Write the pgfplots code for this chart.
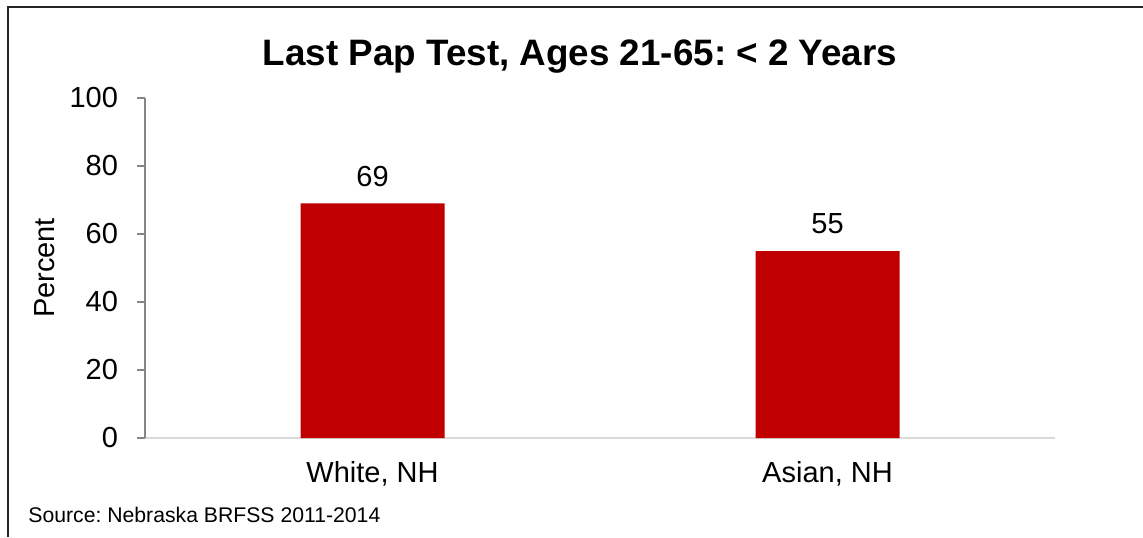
\documentclass[border=0pt]{standalone}
\usepackage{pgfplots}
\pgfplotsset{compat=1.18}
\usepackage{fontspec}
\setmainfont{Liberation Sans}
\frenchspacing
\definecolor{barred}{HTML}{C00000}
\definecolor{axgray}{HTML}{868686}
\definecolor{basegray}{HTML}{D9D9D9}
\begin{document}
\begin{tikzpicture}
\useasboundingbox (-72.5pt,-49.5pt) rectangle (499pt,219pt);
% outer frame (only left and top visible)
\draw[line width=1pt, black!85] (-68.5pt,-49.5pt) -- (-68.5pt,215.5pt) -- (499pt,215.5pt);
\node[anchor=base, font=\fontsize{18.4pt}{20pt}\selectfont\bfseries] at (217.5pt,186.5pt)
  {Last Pap Test, Ages 21-65: < 2 Years};
\node[anchor=base west, inner sep=0pt, font=\fontsize{10.6pt}{12pt}\selectfont] at (-58.5pt,-42pt)
  {Source: Nebraska BRFSS 2011-2014};
\begin{axis}[
    at={(0pt,0pt)}, anchor=south west,
    scale only axis,
    width=455pt, height=170pt,
    xmin=-0.5, xmax=1.5,
    ymin=0, ymax=100,
    ytick={0,20,...,100},
    xtick={0,1},
    xticklabels={{White, NH},{Asian, NH}},
    axis lines*=left,
    x axis line style={basegray, line width=1pt},
    y axis line style={axgray, line width=0.75pt},
    ytick style={axgray, line width=0.75pt},
    xtick style={draw=none},
    tick align=outside,
    major tick length=4pt,
    ybar, bar width=72pt,
    ticklabel style={font=\fontsize{14.5pt}{16pt}\selectfont},
    yticklabel style={xshift=-6pt},
    xticklabel style={yshift=-4pt},
    /pgf/number format/assume math mode=true,
    ylabel={Percent},
    ylabel style={at={(axis description cs:-0.11,0.5)}, anchor=center,
        font=\fontsize{14.5pt}{16pt}\selectfont},
    nodes near coords,
    nodes near coords style={font=\fontsize{14.5pt}{16pt}\selectfont, black, yshift=5pt,
        /pgf/number format/assume math mode=true},
]
\addplot[fill=barred, draw=none] coordinates {(0,69) (1,55)};
\end{axis}
\end{tikzpicture}
\end{document}
